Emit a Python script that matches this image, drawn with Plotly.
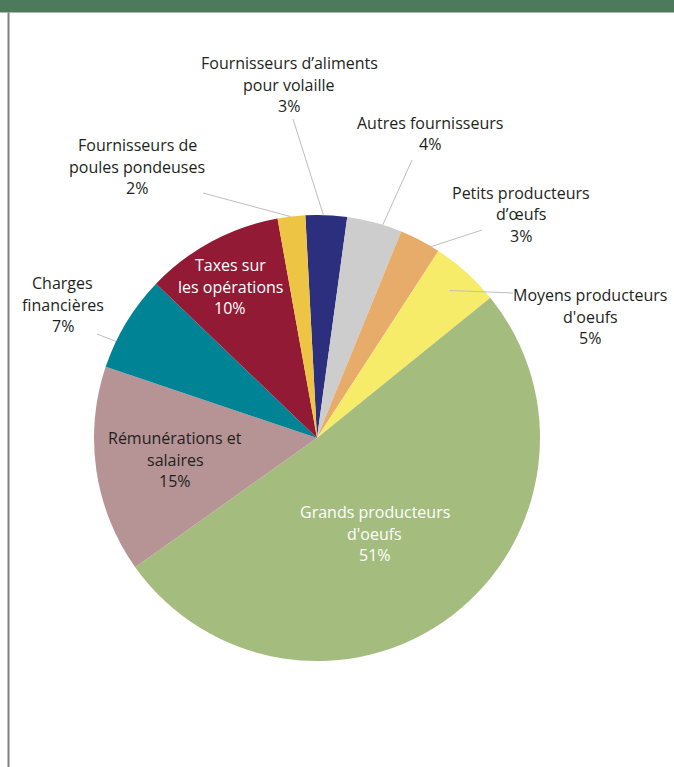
import math
import plotly.graph_objects as go

# ---- data ----
categories = [
    "Fournisseurs d’aliments pour volaille",
    "Autres fournisseurs",
    "Petits producteurs d’œufs",
    "Moyens producteurs d'oeufs",
    "Grands producteurs d'oeufs",
    "Rémunérations et salaires",
    "Charges financières",
    "Taxes sur les opérations",
    "Fournisseurs de poules pondeuses",
]
values = [3, 4, 3, 5, 51, 15, 7, 10, 2]
label_lines = [
    ["Fournisseurs d’aliments", "pour volaille"],
    ["Autres fournisseurs"],
    ["Petits producteurs", "d’œufs"],
    ["Moyens producteurs", "d'oeufs"],
    ["Grands producteurs", "d'oeufs"],
    ["Rémunérations et", "salaires"],
    ["Charges", "financières"],
    ["Taxes sur", "les opérations"],
    ["Fournisseurs de", "poules pondeuses"],
]
colors = ["#2B2F7E", "#CDCDCD", "#E8AC6A", "#F6EC6A", "#A4BD7E",
          "#B69495", "#008495", "#921A34", "#EEC445"]

# ---- layout config (pixels) ----
W, H = 674, 767
CX, CY, R = 317, 438, 223
ROTATION = -3.0
LINE_H = 21.5
# label: centre x, first line y, text colour, leader (fraction along slice, radius factor, outer x, outer y) or None
label_cfg = [
    (289, 63, "#231F20", (0.43, 1.0, 293, 119)),
    (430, 123, "#231F20", (0.65, 1.0, 412, 160)),
    (521, 193, "#231F20", (0.8, 1.0, 482, 230)),
    (590, 295, "#231F20", (0.5, 0.89, 513, 293)),
    (375, 512, "#FFFFFF", None),
    (175, 438, "#231F20", None),
    (63, 283, "#231F20", (0.28, 1.0, 97, 334)),
    (230, 265, "#FFFFFF", None),
    (137, 145, "#231F20", (0.47, 1.0, 203, 193)),
]


def px(x):
    return x / W


def py(y):
    return 1 - y / H


fig = go.Figure(go.Pie(
    labels=categories,
    values=values,
    sort=False,
    direction="clockwise",
    rotation=ROTATION,
    marker=dict(colors=colors, line=dict(width=0)),
    textinfo="none",
    hoverinfo="label+percent",
    domain=dict(x=[px(CX - R), px(CX + R)], y=[py(CY + R), py(CY - R)]),
    showlegend=False,
))

annotations = []
shapes = []
total = sum(values)
start = ROTATION
for i, v in enumerate(values):
    span = v / total * 360.0
    cx, y0, col, leader = label_cfg[i]
    lines = label_lines[i] + [f"{v}%"]
    for k, t in enumerate(lines):
        annotations.append(dict(
            x=px(cx), y=py(y0 + k * LINE_H), xref="paper", yref="paper",
            text=t, showarrow=False, xanchor="center", yanchor="middle",
            font=dict(family="Open Sans", size=16, color=col),
        ))
    if leader:
        frac, rf, ox, oy = leader
        ang = math.radians(start + frac * span)
        ix = CX + R * rf * math.sin(ang)
        iy = CY - R * rf * math.cos(ang)
        shapes.append(dict(type="line", xref="paper", yref="paper",
                           x0=px(ix), y0=py(iy), x1=px(ox), y1=py(oy),
                           line=dict(color="#BEBEBE", width=1)))
    start += span

# frame: green top band and grey left rule
shapes.append(dict(type="rect", xref="paper", yref="paper", x0=0, x1=1,
                   y0=py(12.5), y1=1, fillcolor="#4E7A5C", line=dict(width=0),
                   layer="below"))
shapes.append(dict(type="line", xref="paper", yref="paper", x0=px(8.5), x1=px(8.5),
                   y0=0, y1=py(12.5), line=dict(color="#808080", width=2)))

fig.update_layout(
    width=W, height=H,
    margin=dict(l=0, r=0, t=0, b=0),
    paper_bgcolor="white", plot_bgcolor="white",
    annotations=annotations, shapes=shapes,
)

fig.write_html("out.html", config={"displayModeBar": False},
               post_script="document.body.style.margin='0';")
